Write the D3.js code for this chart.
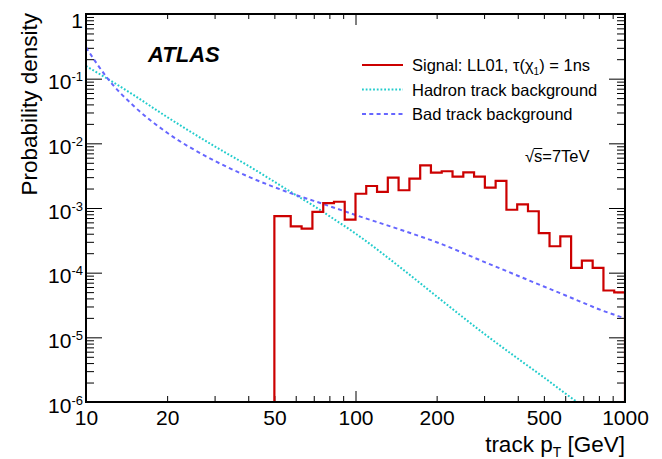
<!DOCTYPE html>
<html>
<head>
<meta charset="utf-8">
<script src="https://cdn.jsdelivr.net/npm/d3@7"></script>
<style>
  body { margin: 0; background: #fff; }
  svg { font-family: "Liberation Sans", Arial, Helvetica, sans-serif; }
</style>
</head>
<body>
<div id="chart"></div>
<script>
// signal histogram: bin edges (GeV) and content per bin
const binEdges = [50, 57.5, 63.1, 69.2, 75.9, 83.2, 91.2, 100, 109.6, 120.2, 131.8,
  144.5, 158.5, 173.8, 190.5, 208.9, 229.1, 251.2, 275.4, 302, 331.1, 363.1,
  398.1, 436.5, 478.6, 524.8, 575.4, 631, 691.8, 758.6, 831.8, 912, 1000];
const signalVal = [7.5e-4, 5.2e-4, 4.8e-4, 8.7e-4, 1.19e-3, 1.25e-3, 6.6e-4,
  1.66e-3, 2.19e-3, 1.77e-3, 2.94e-3, 1.88e-3, 2.84e-3, 4.57e-3, 3.52e-3, 3.7e-3,
  3.05e-3, 3.56e-3, 3.05e-3, 2.06e-3, 2.62e-3, 9.4e-4, 1.14e-3, 8.9e-4, 4.1e-4,
  2.56e-4, 3.65e-4, 1.19e-4, 1.53e-4, 1.19e-4, 5.3e-5, 4.97e-5];

// hadron track background (dotted cyan)
const hadronPt = [10, 12, 15, 20, 30, 40, 50, 60, 70, 80, 100, 150, 200, 300, 400, 500, 600, 700];
const hadronVal = [0.157, 0.1, 0.056, 0.0255, 9.0e-3, 4.5e-3, 2.55e-3, 1.59e-3, 1.08e-3,
  7.5e-4, 4.03e-4, 1.12e-4, 4.3e-5, 1.14e-5, 4.7e-6, 2.4e-6, 1.36e-6, 8.5e-7];

// bad track background (dashed blue)
const badPt = [10, 12, 15, 20, 30, 40, 50, 60, 70, 80, 100, 150, 200, 300, 400, 500, 600, 700, 800, 1000];
const badVal = [0.305, 0.102, 0.0381, 0.0146, 5.37e-3, 3.06e-3, 2.1e-3, 1.59e-3, 1.29e-3,
  1.07e-3, 7.8e-4, 4.48e-4, 2.96e-4, 1.47e-4, 8.97e-5, 6.1e-5, 4.47e-5, 3.42e-5, 2.72e-5, 1.97e-5];

const xLabelVals = [10, 20, 50, 100, 200, 500, 1000];

const legendItems = [
  { key: "signal", color: "#cc0000", dash: null, width: 2.2 },
  { key: "hadron", color: "#22cccc", dash: "1.8 1.9", width: 2 },
  { key: "bad", color: "#6666ff", dash: "4 3.3", width: 2 },
];

const W = 662, H = 459;
const margin = { top: 14, right: 37, bottom: 57, left: 86 };
const iw = W - margin.left - margin.right;
const ih = H - margin.top - margin.bottom;

const x = d3.scaleLog().domain([10, 1000]).range([0, iw]);
const y = d3.scaleLog().domain([1e-6, 1]).range([ih, 0]);

const isMajor = (d) => Math.abs(Math.log10(d) - Math.round(Math.log10(d))) < 1e-9;

const svg = d3.select("#chart")
  .append("svg")
  .attr("width", W)
  .attr("height", H);

const g = svg.append("g")
  .attr("transform", "translate(" + margin.left + "," + margin.top + ")");

g.append("clipPath").attr("id", "plot")
  .append("rect").attr("width", iw).attr("height", ih);

// axes (ticks pointing inward)
const gx = g.append("g")
  .attr("transform", "translate(0," + ih + ")")
  .call(d3.axisBottom(x).tickValues(x.ticks()).tickSizeInner(-6).tickSizeOuter(0)
    .tickFormat((d) => (xLabelVals.includes(d) ? d : "")));
gx.selectAll(".tick line").attr("y2", (d) => (isMajor(d) ? -11 : -6));
gx.selectAll(".tick text").attr("y", 23).attr("dy", null)
  .attr("font-size", 21).attr("fill", "#000");

const gt = g.append("g")
  .call(d3.axisTop(x).tickValues(x.ticks()).tickSizeInner(-5).tickSizeOuter(0).tickFormat(""));
gt.selectAll(".tick line").attr("y2", (d) => (isMajor(d) ? 11 : 5));

const gy = g.append("g")
  .call(d3.axisLeft(y).tickValues(y.ticks()).tickSizeInner(-8).tickSizeOuter(0).tickFormat(""));
gy.selectAll(".tick line").attr("x2", (d) => (isMajor(d) ? 16 : 8));

const gr = g.append("g")
  .attr("transform", "translate(" + iw + ",0)")
  .call(d3.axisRight(y).tickValues(y.ticks()).tickSizeInner(-8).tickSizeOuter(0).tickFormat(""));
gr.selectAll(".tick line").attr("x2", (d) => (isMajor(d) ? -16 : -8));

[gx, gt, gy, gr].forEach((a) => {
  a.select(".domain").remove();
  a.selectAll(".tick line").attr("stroke", "#000").attr("stroke-width", 1);
});

// y tick labels: 10^n
gy.selectAll(".tick")
  .filter((d) => isMajor(d))
  .each(function (d) {
    const e = Math.round(Math.log10(d));
    const t = d3.select(this).append("text")
      .attr("x", -3)
      .attr("y", e === 0 ? 13 : 10)
      .attr("text-anchor", "end")
      .attr("fill", "#000")
      .attr("font-size", 21);
    if (e === 0) {
      t.text("1");
    } else {
      t.append("tspan").text("10");
      t.append("tspan").attr("dy", -8).attr("font-size", 13).text(e);
    }
  });

// curves
const curveLine = d3.line()
  .x((d) => x(d[0]))
  .y((d) => y(d[1]))
  .curve(d3.curveMonotoneX);

const plot = g.append("g").attr("clip-path", "url(#plot)");

plot.append("path")
  .datum(hadronPt.map((p, i) => [p, hadronVal[i]]))
  .attr("d", curveLine)
  .attr("fill", "none")
  .attr("stroke", legendItems[1].color)
  .attr("stroke-width", legendItems[1].width)
  .attr("stroke-dasharray", legendItems[1].dash);

plot.append("path")
  .datum(badPt.map((p, i) => [p, badVal[i]]))
  .attr("d", curveLine)
  .attr("fill", "none")
  .attr("stroke", legendItems[2].color)
  .attr("stroke-width", legendItems[2].width)
  .attr("stroke-dasharray", legendItems[2].dash);

// signal histogram as a step outline
let steps = [[binEdges[0], 1e-6]];
signalVal.forEach((v, i) => {
  steps.push([binEdges[i], v]);
  steps.push([binEdges[i + 1], v]);
});
steps.push([binEdges[binEdges.length - 1], 1e-6]);

plot.append("path")
  .datum(steps)
  .attr("d", d3.line().x((d) => x(d[0])).y((d) => y(d[1])))
  .attr("fill", "none")
  .attr("stroke", legendItems[0].color)
  .attr("stroke-width", legendItems[0].width)
  .attr("stroke-linejoin", "miter");

// frame
g.append("rect")
  .attr("width", iw)
  .attr("height", ih)
  .attr("fill", "none")
  .attr("stroke", "#000")
  .attr("stroke-width", 2);

// axis titles
svg.append("text")
  .attr("transform", "translate(37," + 13 + ") rotate(-90)")
  .attr("text-anchor", "end")
  .attr("font-size", 22.5)
  .text("Probability density");

const xt = svg.append("text")
  .attr("x", margin.left + iw)
  .attr("y", 452)
  .attr("text-anchor", "end")
  .attr("font-size", 22.5);
xt.append("tspan").text("track p");
xt.append("tspan").attr("dy", 5).attr("font-size", 14).text("T");
xt.append("tspan").attr("dy", -5).text(" [GeV]");

// ATLAS label
svg.append("text")
  .attr("x", 148)
  .attr("y", 62)
  .attr("font-size", 22)
  .attr("font-weight", "bold")
  .attr("font-style", "italic")
  .text("ATLAS");

// legend
const legend = svg.append("g");
const rowsY = [65, 89.5, 114];
legendItems.forEach((it, i) => {
  legend.append("line")
    .attr("x1", 362).attr("x2", 403)
    .attr("y1", rowsY[i]).attr("y2", rowsY[i])
    .attr("stroke", it.color)
    .attr("stroke-width", it.width)
    .attr("stroke-dasharray", it.dash);
});
const lt0 = legend.append("text").attr("x", 412).attr("y", rowsY[0] + 6).attr("font-size", 16.5);
lt0.append("tspan").text("Signal: LL01, \u03c4(\u03c7");
lt0.append("tspan").attr("dy", 4).attr("font-size", 10).text("1");
lt0.append("tspan").attr("dy", -4).text(") = 1ns");
legend.append("text").attr("x", 412).attr("y", rowsY[1] + 6).attr("font-size", 16.5)
  .text("Hadron track background");
legend.append("text").attr("x", 412).attr("y", rowsY[2] + 6).attr("font-size", 16.5)
  .text("Bad track background");

// sqrt(s) label
const sq = svg.append("text").attr("x", 525).attr("y", 162).attr("font-size", 16.5);
sq.append("tspan").text("\u221a");
sq.append("tspan").text("s");
sq.append("tspan").text("=7TeV");
const sNode = sq.node();
const s0 = sNode.getSubStringLength(0, 1);
const s1 = sNode.getSubStringLength(1, 1);
svg.append("line")
  .attr("x1", 525 + s0 - 0.5).attr("x2", 525 + s0 + s1)
  .attr("y1", 148.5).attr("y2", 148.5)
  .attr("stroke", "#000").attr("stroke-width", 1);
</script>
</body>
</html>
